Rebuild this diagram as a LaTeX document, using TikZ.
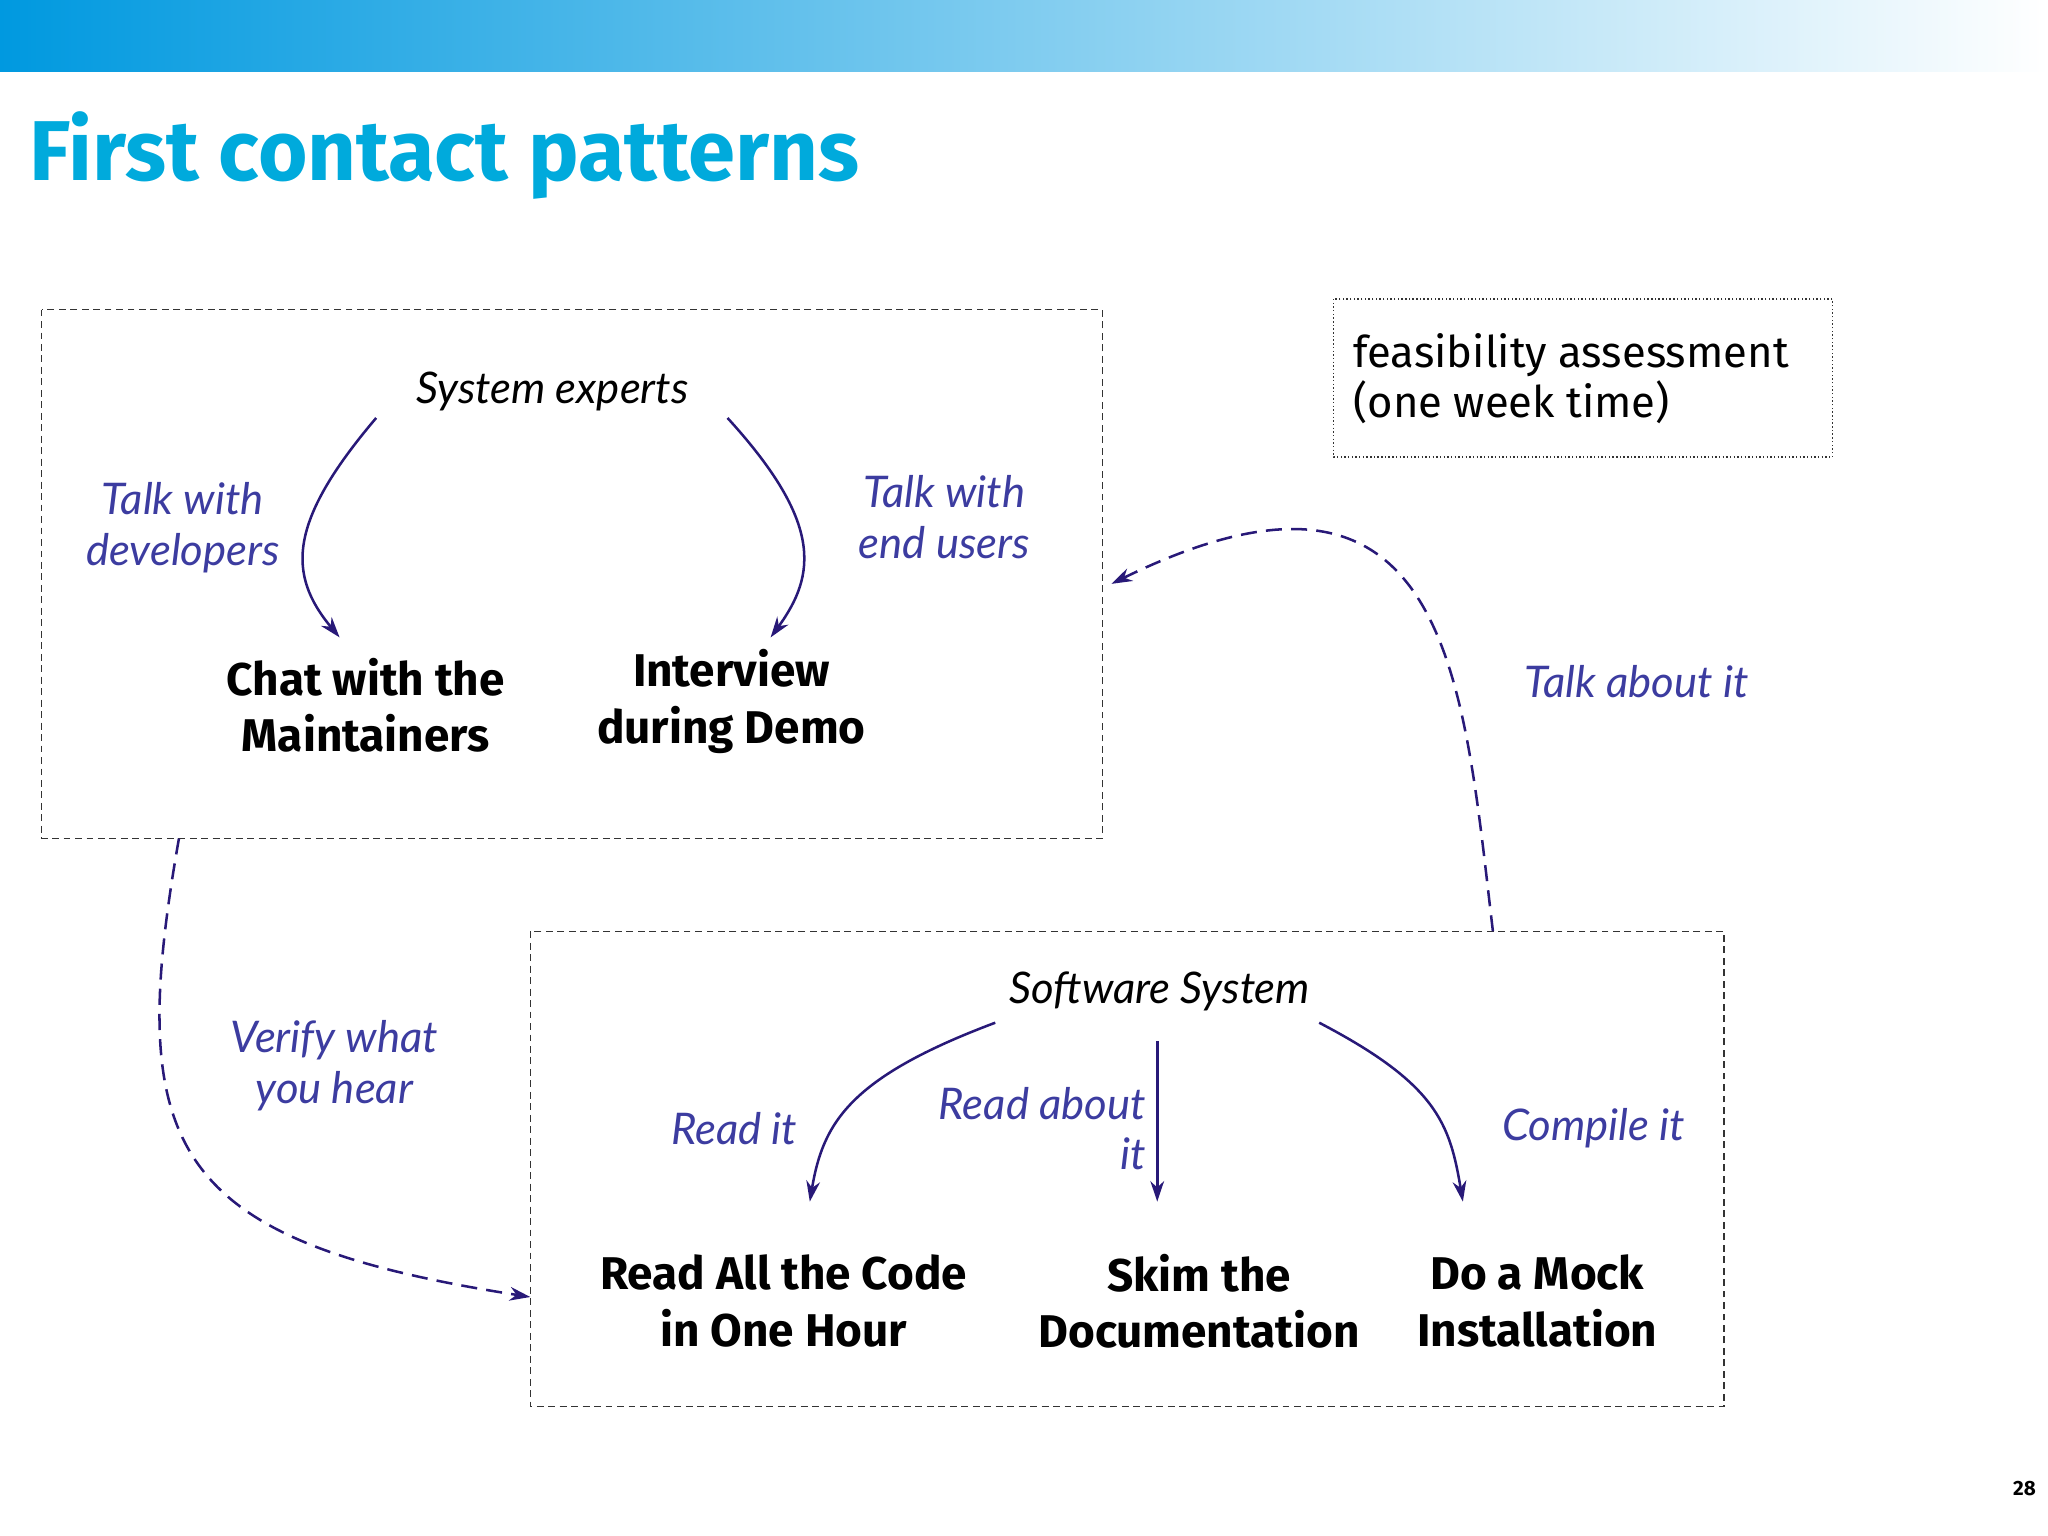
\documentclass[tikz,border=0pt]{standalone}
\usepackage{fontspec}
\setmainfont{Fira Sans}
\newfontfamily\itf{Lato}
\usetikzlibrary{arrows.meta}
\definecolor{ttl}{RGB}{0,170,220}
\definecolor{arr}{RGB}{40,25,120}
\definecolor{lbl}{RGB}{60,60,160}
\tikzset{
 box/.style={draw=black!80,dash pattern=on 3pt off 2pt,line width=0.6pt},
 arrw/.style={draw=arr,line width=1.1pt,-{Stealth[length=9pt,width=6pt]}},
 darr/.style={draw=arr,line width=1.1pt,dash pattern=on 7pt off 4pt,-{Stealth[length=9pt,width=6pt]}},
 lab/.style={text=lbl,font=\itf\itshape\fontsize{19}{22}\selectfont,align=center},
 blk/.style={font=\itf\itshape\fontsize{19}{22}\selectfont},
 bold/.style={font=\bfseries\fontsize{20}{24.5}\selectfont,align=center},
}
\begin{document}
\begin{tikzpicture}[x=0.02cm,y=-0.02cm]
\useasboundingbox (0,0) rectangle (1568,1176);
\shade[left color=ttl!90!blue,right color=white] (0,0) rectangle (1568,55);
\node[anchor=base west,text=ttl,font=\bfseries\fontsize{37}{40}\selectfont,inner sep=0] (title) at (22,138) {First contact patterns};
\draw[box] (32,237) rectangle (844,642);
\draw[box] (406,713) rectangle (1320,1077);
\draw[black!80,densely dotted,line width=0.6pt] (1021,229) rectangle (1403,350);
\node[anchor=west,align=left,font=\fontsize{19}{22}\selectfont] (feas) at (1030,290) {feasibility assessment\\(one week time)};
\node[blk] (se) at (423,300) {System experts};
\coordinate (se1) at (288,320); \coordinate (se2) at (557,320);
\coordinate (c1) at (260,488); \coordinate (i1) at (590,488);
\draw[arrw] (se1) .. controls (220,400) and (220,440) .. (c1);
\draw[arrw] (se2) .. controls (630,400) and (625,440) .. (i1);
\node[lab] (l1) at (140,404) {Talk with\\developers};
\node[lab] (l2) at (723,396) {Talk with\\end users};
\node[bold] (chat) at (280,540) {Chat with the\\Maintainers};
\node[bold] (intv) at (560,537) {Interview\\during Demo};
\node[blk] (ss) at (888,759) {Software System};
\coordinate (s1) at (762,783); \coordinate (s2) at (886,797); \coordinate (s3) at (1010,783);
\coordinate (r1) at (620,920); \coordinate (r2) at (886,920); \coordinate (r3) at (1120,920);
\draw[arrw] (s1) .. controls (650,825) and (630,860) .. (r1);
\draw[arrw] (s2) -- (r2);
\draw[arrw] (s3) .. controls (1100,830) and (1110,860) .. (r3);
\node[lab] (l3) at (562,864) {Read it};
\node[lab,align=right] (l4) at (798,864) {Read about\\\hfill it};
\node[lab] (l5) at (1220,864) {Compile it};
\node[bold] (rc) at (600,996) {Read All the Code\\in One Hour};
\node[bold] (sk) at (918,996) {Skim the\\Documentation};
\node[bold] (mk) at (1177,996) {Do a Mock\\Installation};
\coordinate (b1) at (137,642); \coordinate (b2) at (406,993);
\coordinate (t1) at (1143,713); \coordinate (t2) at (851,447);
\draw[darr] (b1) .. controls (95,880) and (130,950) .. (b2);
\draw[darr] (t1) .. controls (1120,520) and (1110,320) .. (t2);
\node[lab] (l6) at (1253,522) {Talk about it};
\node[lab] (l7) at (256,816) {Verify what\\you hear};
\node[font=\bfseries\fontsize{9}{10}\selectfont] (pg) at (1550,1140) {28};
\end{tikzpicture}
\end{document}
